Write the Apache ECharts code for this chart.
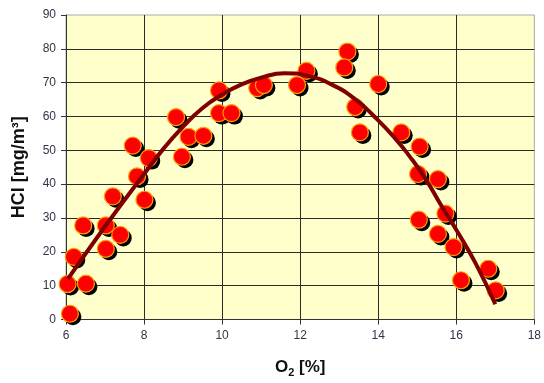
<!DOCTYPE html>
<html>
<head>
<meta charset="utf-8">
<script src="https://cdn.jsdelivr.net/npm/echarts@6/dist/echarts.min.js"></script>
<style>
html,body{margin:0;padding:0;background:#fff;}
#c{width:544px;height:383px;}
</style>
</head>
<body>
<div id="c"></div>
<script>
// Measured points: O2 [%] and HCl [mg/m3]
const o2Values = [6.10, 6.04, 6.20, 6.51, 6.44, 7.02, 7.02, 7.20, 7.39, 7.82, 8.01, 7.71, 8.12, 8.82, 8.97, 9.14, 9.52, 9.92, 9.92, 10.24, 10.90, 11.07, 11.92, 12.16, 13.21, 13.13, 13.41, 13.53, 14.00, 14.59, 15.06, 15.02, 15.53, 15.04, 15.72, 15.53, 15.93, 16.82, 16.12, 17.01];
const hclValues = [1.7, 10.5, 18.5, 10.6, 27.8, 27.8, 20.9, 36.4, 25.0, 42.3, 35.4, 51.4, 47.7, 59.8, 48.1, 54.0, 54.3, 67.7, 61.0, 61.0, 68.4, 69.3, 69.3, 73.5, 79.2, 74.5, 62.8, 55.3, 69.6, 55.3, 51.1, 43.0, 41.5, 29.5, 31.3, 25.3, 21.4, 15.0, 11.6, 8.6];
// Trend curve
const trendX = [6.05, 7.0, 8.0, 8.5, 9.0, 9.5, 10.0, 10.5, 11.0, 11.6, 12.2, 12.8, 13.4, 13.9, 14.4, 14.8, 15.2, 15.6, 16.0, 16.5, 17.0];
const trendY = [12, 27.5, 43, 50.5, 57, 62.5, 66.5, 69.5, 71.5, 72.8, 72, 69.5, 65.2, 60, 54, 48.3, 41.8, 34, 26.5, 16.5, 4.5];
const xTicks = [6, 8, 10, 12, 14, 16, 18];
const yTicks = [0, 10, 20, 30, 40, 50, 60, 70, 80, 90];

const scatterData = o2Values.map((x, i) => [x, hclValues[i]]);
const trendData = trendX.map((x, i) => [x, trendY[i]]);

const chart = echarts.init(document.getElementById('c'), null, {renderer: 'canvas'});
const labelColor = '#33334a';
chart.setOption({
  animation: false,
  backgroundColor: '#ffffff',
  textStyle: {fontFamily: 'Liberation Sans, Arial, sans-serif'},
  grid: {
    left: 66, right: 7, top: 15, bottom: 63,
    show: true, backgroundColor: '#FFFFCC', borderColor: '#a8a8a8', borderWidth: 1
  },
  xAxis: {
    type: 'value', min: xTicks[0], max: xTicks[xTicks.length - 1], interval: 2,
    name: '{a|O}{s|2}{a| [%]}',
    nameLocation: 'middle', nameGap: 38,
    nameTextStyle: {
      rich: {
        a: {fontSize: 17, fontWeight: 'bold', color: '#111', fontFamily: 'Liberation Sans, Arial', lineHeight: 20},
        s: {fontSize: 11, fontWeight: 'bold', color: '#111', fontFamily: 'Liberation Sans, Arial', lineHeight: 20, padding: [10, 0, 0, 0]}
      }
    },
    axisLine: {show: true, lineStyle: {color: '#333', width: 1}},
    axisTick: {show: true, length: 5, lineStyle: {color: '#333'}},
    axisLabel: {color: labelColor, fontSize: 12, margin: 10},
    splitLine: {show: true, showMinLine: false, showMaxLine: false, lineStyle: {color: '#2a2a2a', width: 1}}
  },
  yAxis: {
    type: 'value', min: yTicks[0], max: yTicks[yTicks.length - 1], interval: 10,
    name: 'HCl [mg/m³]',
    nameLocation: 'middle', nameGap: 38, nameRotate: 90,
    nameTextStyle: {fontSize: 18, fontWeight: 'bold', color: '#111'},
    axisLine: {show: true, lineStyle: {color: '#333', width: 1}},
    axisTick: {show: true, length: 5, lineStyle: {color: '#333'}},
    axisLabel: {color: labelColor, fontSize: 12, margin: 10},
    splitLine: {show: true, showMinLine: false, showMaxLine: false, lineStyle: {color: '#2a2a2a', width: 1}}
  },
  series: [
    {
      // black drop shadow under each point
      type: 'scatter',
      data: scatterData,
      symbol: 'circle',
      symbolSize: 17,
      symbolOffset: [3, 3],
      z: 2,
      silent: true,
      itemStyle: {color: '#000', borderWidth: 0, opacity: 1}
    },
    {
      type: 'scatter',
      data: scatterData,
      symbol: 'circle',
      symbolSize: 17,
      z: 3,
      itemStyle: {color: '#FF0000', borderColor: '#FFA000', borderWidth: 1.2, opacity: 1}
    },
    {
      type: 'line',
      data: trendData,
      smooth: true,
      showSymbol: false,
      symbol: 'none',
      z: 5,
      lineStyle: {color: '#800000', width: 4}
    }
  ]
});
</script>
</body>
</html>
